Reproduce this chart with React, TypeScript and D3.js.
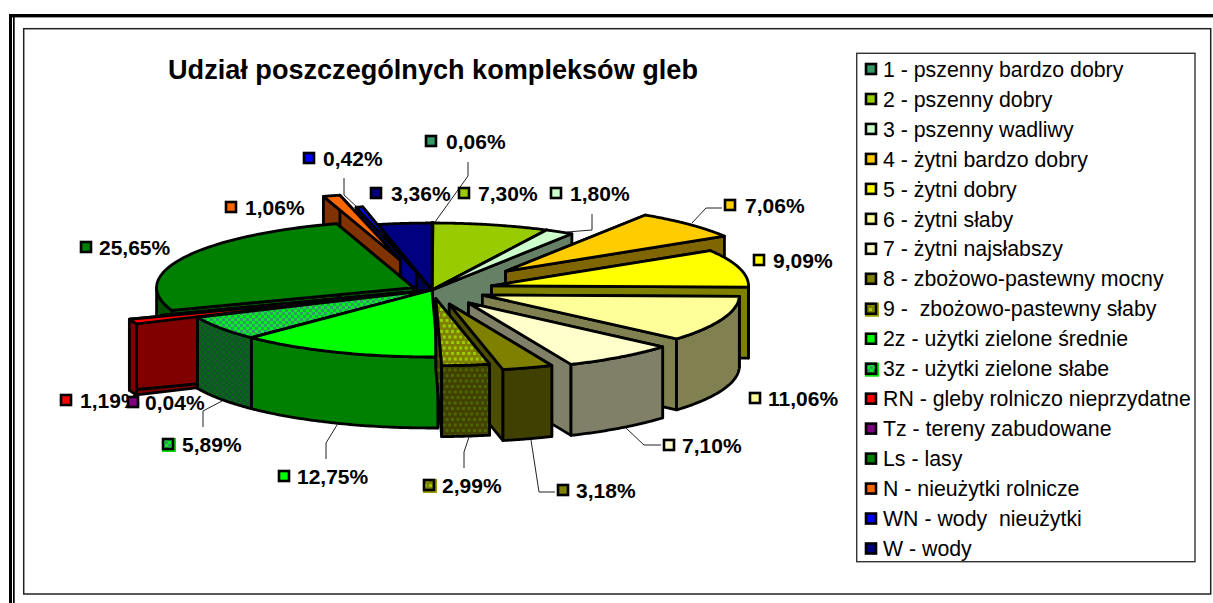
import React from "react";
import * as d3 from "d3";

// ---- data ----
const categories = [
  "1 - pszenny bardzo dobry",
  "2 - pszenny dobry",
  "3 - pszenny wadliwy",
  "4 - żytni bardzo dobry",
  "5 - żytni dobry",
  "6 - żytni słaby",
  "7 - żytni najsłabszy",
  "8 - zbożowo-pastewny mocny",
  "9 -  zbożowo-pastewny słaby",
  "2z - użytki zielone średnie",
  "3z - użytki zielone słabe",
  "RN - gleby rolniczo nieprzydatne",
  "Tz - tereny zabudowane",
  "Ls - lasy",
  "N - nieużytki rolnicze",
  "WN - wody  nieużytki",
  "W - wody",
];
const values = [0.06, 7.3, 1.8, 7.06, 9.09, 11.06, 7.1, 3.18, 2.99, 12.75, 5.89, 1.19, 0.04, 25.65, 1.06, 0.42, 3.36];
const explode = [0, 0, 0, 0.4, 0.24, 0.21, 0.24, 0.22, 0.13, 0, 0, 0.256, 0.12, 0.08, 0.46, 0.27, 0];

// ---- style ----
const topFill = ["#339966", "#99CC00", "#CCFFCC", "#FFCC00", "#FFFF00", "#FFFF99", "#FFFFCC", "#808000", "url(#p9)", "#00FF00", "url(#p3z)", "#FF0000", "#800080", "#008000", "#FF6600", "#0000FF", "#000080"];
const sideFill = ["#1a4d33", "#4d6600", "#668066", "#806600", "#808000", "#808050", "#808068", "#404000", "url(#p9d)", "#008000", "url(#p3zd)", "#800000", "#400040", "#005000", "#803300", "#000080", "#000050"];
const endFill = sideFill.map((c, i) => (i === 7 ? "#4d4d00" : c));
const swatchFill = topFill;
const paintOrder = [0, 1, 2, 3, 4, 5, 6, 7, 16, 15, 14, 13, 12, 11, 10, 9, 8];

// label layout: swatch left edge, text left edge, vertical centre
const labelLayout: [number, number, number][] = [
  [425, 446, 141], [458, 478, 193], [550, 570, 193], [724, 745, 205], [753, 773, 260],
  [749, 768, 398], [663, 682, 445], [557, 576, 490], [423, 442, 485], [278, 297, 476],
  [162, 182, 444], [60, 80, 400], [127, 145, 402], [80, 99, 247], [225, 245, 207],
  [303, 323, 158], [370, 391, 193],
];
const leaders: [number, number][][] = [
  [[468, 162], [468, 176], [435, 222]],
  [[344, 178], [344, 195], [358, 208]],
  [[592, 214], [592, 230], [567, 232]],
  [[722, 208], [706, 208], [692, 223]],
  [[203, 427], [203, 411], [222, 401]],
  [[326, 459], [326, 443], [337, 425]],
  [[464, 468], [464, 452], [469, 437]],
  [[555, 492], [539, 492], [531, 440]],
  [[661, 445], [644, 445], [626, 428]],
];

const W = 1213, H = 603;
const cx = 432, cy = 290, rx = 257, ry = 67, depth = 71;
const FONT = "'Liberation Sans', Arial, sans-serif";

const arcs = d3.pie<number>().sort(null).value((d) => d)(values);
const xUnit = d3.scaleLinear().domain([-1, 1]).range([-rx, rx]);
const yUnit = d3.scaleLinear().domain([-1, 1]).range([-ry, ry]);
const line = d3.line<[number, number]>();
const legendY = d3.scaleLinear().domain([0, categories.length - 1]).range([69, 548.5]);

function Slice({ i }: { i: number }) {
  const a = arcs[i];
  const a0 = a.startAngle, a1 = a.endAngle, mid = (a0 + a1) / 2;
  const ax = cx + explode[i] * xUnit(Math.sin(mid));
  const ay = cy - explode[i] * yUnit(Math.cos(mid));
  const pt = (t: number, h = 0): [number, number] => [ax + xUnit(Math.sin(t)), ay - yUnit(Math.cos(t)) + h];
  const sample = (s: number, e: number, h = 0) => d3.range(0, 61).map((k) => pt(s + ((e - s) * k) / 60, h));
  const wall = (t: number) => line([[ax, ay], pt(t), pt(t, depth), [ax, ay + depth]]) + "Z";
  const vs = Math.max(a0, Math.PI / 2), ve = Math.min(a1, (3 * Math.PI) / 2);
  const stroke = { stroke: "#000", strokeWidth: 2.8, strokeLinejoin: "round" as const };
  return (
    <g>
      <path d={wall(a0)} fill={sideFill[i]} {...stroke} />
      <path d={wall(a1)} fill={endFill[i]} {...stroke} />
      {ve > vs && (
        <path d={line([...sample(vs, ve), ...sample(vs, ve, depth).reverse()]) + "Z"} fill={sideFill[i]} {...stroke} />
      )}
      <path d={line([[ax, ay], ...sample(a0, a1)]) + "Z"} fill={topFill[i]} {...stroke} />
    </g>
  );
}

function Swatch({ x, cyy, i, s }: { x: number; cyy: number; i: number; s: number }) {
  const patterned = i === 8 || i === 10;
  return (
    <g>
      {patterned && <rect x={x} y={cyy - s / 2} width={s + 2} height={s + 2} fill={i === 8 ? "#99a000" : "#00e000"} />}
      <rect x={x + 1} y={cyy - s / 2 + 1} width={s - 2} height={s - 2} fill={swatchFill[i]} stroke="#000" strokeWidth={2.6} />
    </g>
  );
}

export default function App() {
  return (
    <svg width={W} height={H} viewBox={`0 0 ${W} ${H}`} style={{ position: "absolute", left: 0, top: 0, display: "block", background: "#fff" }}>
      <defs>
        <pattern id="p9" width="11" height="11" patternUnits="userSpaceOnUse">
          <rect width="11" height="11" fill="#808000" />
          <rect x="0" y="0" width="3" height="3" fill="#99CC00" />
          <rect x="5.5" y="0" width="3" height="3" fill="#99CC00" />
          <rect x="2.7" y="5.5" width="3" height="3" fill="#99CC00" />
          <rect x="8.2" y="5.5" width="3" height="3" fill="#99CC00" />
        </pattern>
        <pattern id="p9d" width="11" height="11" patternUnits="userSpaceOnUse">
          <rect width="11" height="11" fill="#404000" />
          <rect x="0" y="0" width="3" height="3" fill="#4d6600" />
          <rect x="5.5" y="0" width="3" height="3" fill="#4d6600" />
          <rect x="2.7" y="5.5" width="3" height="3" fill="#4d6600" />
          <rect x="8.2" y="5.5" width="3" height="3" fill="#4d6600" />
        </pattern>
        <pattern id="p3z" width="6" height="6" patternUnits="userSpaceOnUse">
          <rect width="6" height="6" fill="#00F020" />
          <rect width="3" height="3" fill="#339966" />
          <rect x="3" y="3" width="3" height="3" fill="#339966" />
        </pattern>
        <pattern id="p3zd" width="6" height="6" patternUnits="userSpaceOnUse">
          <rect width="6" height="6" fill="#006a10" />
          <rect width="3" height="3" fill="#1a4d33" />
          <rect x="3" y="3" width="3" height="3" fill="#1a4d33" />
        </pattern>
      </defs>

      {/* outer double frame */}
      <rect x={9} y={14} width={W - 9} height={3.4} fill="#000" />
      <rect x={9} y={14} width={3} height={H - 14} fill="#000" />
      <rect x={13} y={14} width={1.7} height={H - 14} fill="#000" />

      {/* chart area */}
      <rect x={23.7} y={28.7} width={1187} height={565.3} fill="#fff" stroke="#222" strokeWidth={1.5} />

      <text x={433} y={79} textAnchor="middle" fontFamily={FONT} fontWeight="bold" fontSize={27.1} fill="#000">
        Udział poszczególnych kompleksów gleb
      </text>

      {paintOrder.map((i) => <Slice key={i} i={i} />)}

      {leaders.map((l, k) => (
        <path key={k} d={line(l)!} fill="none" stroke="#222" strokeWidth={1} />
      ))}

      {values.map((v, i) => {
        const [sx, tx, y] = labelLayout[i];
        return (
          <g key={i}>
            <Swatch x={sx} cyy={y} i={i} s={12} />
            <text x={tx} y={y} dy="0.36em" fontFamily={FONT} fontWeight="bold" fontSize={21} fill="#000">
              {v.toFixed(2).replace(".", ",")}%
            </text>
          </g>
        );
      })}

      {/* legend */}
      <rect x={856.7} y={53.3} width={338.3} height={508.4} fill="#fff" stroke="#333" strokeWidth={1.4} />
      {categories.map((c, i) => (
        <g key={i}>
          <Swatch x={865} cyy={legendY(i)} i={i} s={12} />
          <text x={883} y={legendY(i)} dy="0.36em" fontFamily={FONT} fontSize={21.3} fill="#000" xmlSpace="preserve">
            {c}
          </text>
        </g>
      ))}
    </svg>
  );
}
